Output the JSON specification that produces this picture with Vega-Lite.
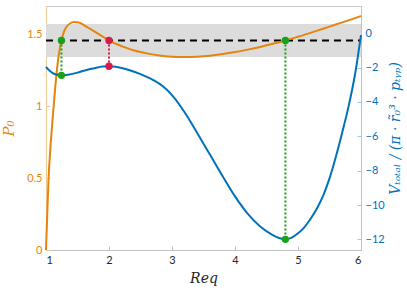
{
  "$schema": "https://vega.github.io/schema/vega-lite/v6.json",
  "width": 315,
  "height": 244,
  "autosize": "none",
  "padding": {"left": 46, "top": 6, "right": 46, "bottom": 44},
  "config": {
    "view": {"stroke": "#c8c8c8", "strokeWidth": 1},
    "axis": {"grid": false, "labelFont": "Lato", "labelFontSize": 11, "domainWidth": 1, "tickSize": -4}
  },
  "datasets": {
    "band": [{"x1": 1, "x2": 6, "lo": 1.345, "hi": 1.575, "ref": 1.46}],
    "p0": [
      {"r": 1.0, "p": 0.0}, {"r": 1.02, "p": 0.25}, {"r": 1.04, "p": 0.49}, {"r": 1.07, "p": 0.71},
      {"r": 1.11, "p": 0.94}, {"r": 1.15, "p": 1.15}, {"r": 1.2, "p": 1.35}, {"r": 1.245, "p": 1.46},
      {"r": 1.28, "p": 1.515}, {"r": 1.32, "p": 1.552}, {"r": 1.38, "p": 1.578}, {"r": 1.45, "p": 1.588},
      {"r": 1.52, "p": 1.585}, {"r": 1.6, "p": 1.567}, {"r": 1.7, "p": 1.541}, {"r": 1.8, "p": 1.514},
      {"r": 1.9, "p": 1.487}, {"r": 2.0, "p": 1.46}, {"r": 2.2, "p": 1.42}, {"r": 2.4, "p": 1.39},
      {"r": 2.6, "p": 1.37}, {"r": 2.8, "p": 1.355}, {"r": 3.0, "p": 1.347}, {"r": 3.2, "p": 1.344},
      {"r": 3.4, "p": 1.347}, {"r": 3.6, "p": 1.354}, {"r": 3.8, "p": 1.365}, {"r": 4.0, "p": 1.379},
      {"r": 4.2, "p": 1.396}, {"r": 4.4, "p": 1.415}, {"r": 4.6, "p": 1.437}, {"r": 4.8, "p": 1.46},
      {"r": 5.0, "p": 1.486}, {"r": 5.2, "p": 1.513}, {"r": 5.4, "p": 1.542}, {"r": 5.6, "p": 1.571},
      {"r": 5.8, "p": 1.6}, {"r": 6.0, "p": 1.63}
    ],
    "vt": [
      {"r": 1.0, "v": -1.96}, {"r": 1.05, "v": -2.15}, {"r": 1.1, "v": -2.3}, {"r": 1.16, "v": -2.4},
      {"r": 1.245, "v": -2.45}, {"r": 1.35, "v": -2.41}, {"r": 1.5, "v": -2.29}, {"r": 1.6, "v": -2.18},
      {"r": 1.7, "v": -2.08}, {"r": 1.8, "v": -2.0}, {"r": 1.9, "v": -1.94}, {"r": 2.0, "v": -1.92},
      {"r": 2.1, "v": -1.95}, {"r": 2.2, "v": -2.02}, {"r": 2.33, "v": -2.15}, {"r": 2.5, "v": -2.38},
      {"r": 2.7, "v": -2.72}, {"r": 2.86, "v": -3.1}, {"r": 3.0, "v": -3.6}, {"r": 3.2, "v": -4.6},
      {"r": 3.4, "v": -5.8}, {"r": 3.6, "v": -7.05}, {"r": 3.8, "v": -8.3}, {"r": 4.0, "v": -9.5},
      {"r": 4.2, "v": -10.5}, {"r": 4.4, "v": -11.25}, {"r": 4.6, "v": -11.75}, {"r": 4.7, "v": -11.92},
      {"r": 4.8, "v": -12.0}, {"r": 4.9, "v": -11.9}, {"r": 5.0, "v": -11.65}, {"r": 5.1, "v": -11.3},
      {"r": 5.2, "v": -10.8}, {"r": 5.3, "v": -10.2}, {"r": 5.4, "v": -9.45}, {"r": 5.5, "v": -8.45},
      {"r": 5.6, "v": -7.2}, {"r": 5.7, "v": -5.8}, {"r": 5.8, "v": -4.3}, {"r": 5.9, "v": -2.5},
      {"r": 6.0, "v": -0.1}
    ],
    "links": [
      {"r": 1.245, "top": -0.416, "bot": -2.45, "kind": "green"},
      {"r": 2.0, "top": -0.416, "bot": -1.92, "kind": "red"},
      {"r": 4.8, "top": -0.416, "bot": -12.0, "kind": "green"}
    ],
    "dots": [
      {"r": 1.245, "v": -0.416, "kind": "green"},
      {"r": 1.245, "v": -2.45, "kind": "green"},
      {"r": 2.0, "v": -0.416, "kind": "red"},
      {"r": 2.0, "v": -1.92, "kind": "red"},
      {"r": 4.8, "v": -0.416, "kind": "green"},
      {"r": 4.8, "v": -12.0, "kind": "green"}
    ]
  },
  "layer": [
    {
      "layer": [
        {
          "data": {"name": "band"},
          "mark": {"type": "rect", "color": "#dcdcdc"},
          "encoding": {
            "x": {"field": "x1", "type": "quantitative",
              "scale": {"domain": [1, 6], "nice": false, "zero": false},
              "axis": {"values": [1, 2, 3, 4, 5, 6], "format": "d", "labelColor": "#262626", "domainColor": "#c0c0c0", "tickColor": "#c0c0c0", "labelPadding": 8,
                "title": "Req", "titleFont": "DejaVu Serif", "titleFontStyle": "italic", "titleFontWeight": "normal", "titleFontSize": 14, "titleColor": "#262626", "titlePadding": 6}},
            "x2": {"field": "x2"},
            "y": {"field": "lo", "type": "quantitative",
              "scale": {"domain": [0, 1.7], "nice": false},
              "axis": {"orient": "left", "values": [0, 0.5, 1, 1.5], "format": "~g", "labelColor": "#E5850D", "domainColor": "#f2c894", "tickColor": "#f2c894", "labelPadding": 8,
                "title": "P₀", "titleFont": "DejaVu Serif", "titleFontStyle": "italic", "titleFontWeight": "normal", "titleFontSize": 15, "titleColor": "#E5850D", "titlePadding": 10}},
            "y2": {"field": "hi"}
          }
        },
        {
          "data": {"name": "band"},
          "mark": {"type": "rule", "color": "black", "strokeWidth": 2, "strokeDash": [7, 5]},
          "encoding": {
            "x": {"field": "x1", "type": "quantitative"},
            "x2": {"field": "x2"},
            "y": {"field": "ref", "type": "quantitative"}
          }
        },
        {
          "data": {"name": "p0"},
          "mark": {"type": "line", "color": "#E5850D", "strokeWidth": 2, "interpolate": "monotone"},
          "encoding": {
            "x": {"field": "r", "type": "quantitative"},
            "y": {"field": "p", "type": "quantitative"}
          }
        }
      ]
    },
    {
      "layer": [
        {
          "data": {"name": "vt"},
          "mark": {"type": "line", "color": "#0072BD", "strokeWidth": 2, "interpolate": "monotone"},
          "encoding": {
            "x": {"field": "r", "type": "quantitative"},
            "y": {"field": "v", "type": "quantitative",
              "scale": {"domain": [-12.62, 1.59], "nice": false, "zero": false},
              "axis": {"orient": "right", "values": [0, -2, -4, -6, -8, -10, -12], "format": "d", "labelColor": "#0072BD", "domainColor": "#9ccbe8", "tickColor": "#9ccbe8", "labelPadding": 8,
                "title": "Vₜₒₜₐₗ / (π · r̃₀³ · pₜᵧₚ)", "titleFont": "DejaVu Serif", "titleFontStyle": "italic", "titleFontWeight": "normal", "titleFontSize": 14, "titleColor": "#0072BD", "titleAngle": 270, "titlePadding": 18}}
          }
        },
        {
          "data": {"name": "links"},
          "mark": {"type": "rule", "strokeWidth": 2, "strokeDash": [2, 2]},
          "encoding": {
            "x": {"field": "r", "type": "quantitative"},
            "y": {"field": "top", "type": "quantitative"},
            "y2": {"field": "bot"},
            "color": {"field": "kind", "type": "nominal", "scale": {"domain": ["green", "red"], "range": ["#1AA01A", "#D81B4A"]}, "legend": null}
          }
        },
        {
          "data": {"name": "dots"},
          "mark": {"type": "circle", "size": 55, "opacity": 1},
          "encoding": {
            "x": {"field": "r", "type": "quantitative"},
            "y": {"field": "v", "type": "quantitative"},
            "color": {"field": "kind", "type": "nominal", "scale": {"domain": ["green", "red"], "range": ["#1AA01A", "#D81B4A"]}, "legend": null}
          }
        }
      ]
    }
  ],
  "resolve": {"scale": {"y": "independent"}}
}
